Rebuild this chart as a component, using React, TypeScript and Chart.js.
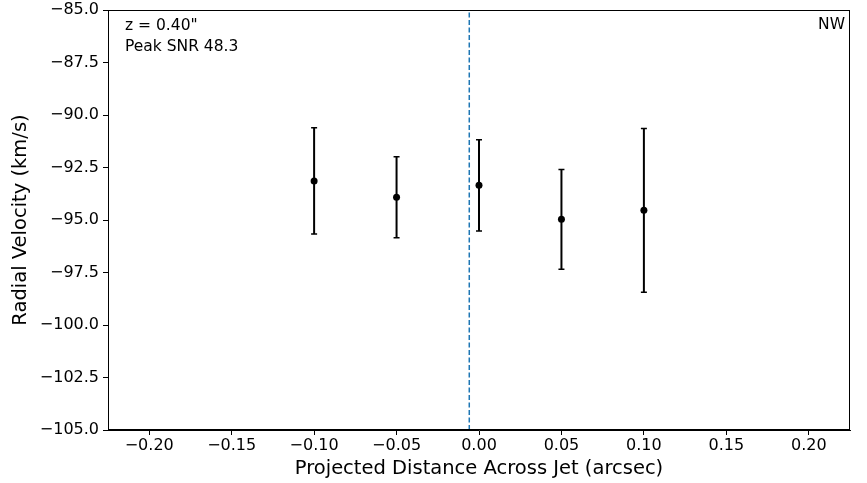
import React, { useEffect, useRef } from "react";
import { Chart, registerables } from "chart.js";

Chart.register(...registerables);

const xValues = [-0.1, -0.05, 0.0, 0.05, 0.1];
const yValues = [-93.14, -93.92, -93.35, -94.97, -94.54];
const yErrors = [2.53, 1.93, 2.17, 2.37, 3.9];
const centerLineX = -0.0059;
const xTicks = [-0.2, -0.15, -0.1, -0.05, 0.0, 0.05, 0.1, 0.15, 0.2];
const yTicks = [-105, -102.5, -100, -97.5, -95, -92.5, -90, -87.5, -85];
const xRange = [-0.225, 0.225];
const yRange = [-105, -85];
const annotationLeft = ['z = 0.40"', "Peak SNR 48.3"];
const annotationRight = "NW";

const FONT = "'DejaVu Sans', sans-serif";
const minus = (s: string) => s.replace("-", "\u2212");

const errorBarPlugin = {
  id: "errorBars",
  afterDatasetsDraw(chart: any) {
    const ctx = chart.ctx;
    const xs = chart.scales.x;
    const ys = chart.scales.y;
    ctx.save();
    ctx.strokeStyle = "#000";
    xValues.forEach((xv, i) => {
      const px = xs.getPixelForValue(xv);
      const top = ys.getPixelForValue(yValues[i] + yErrors[i]);
      const bot = ys.getPixelForValue(yValues[i] - yErrors[i]);
      ctx.lineWidth = 2;
      ctx.beginPath();
      ctx.moveTo(px, top);
      ctx.lineTo(px, bot);
      ctx.stroke();
      ctx.lineWidth = 1.5;
      ctx.beginPath();
      ctx.moveTo(px - 3, top);
      ctx.lineTo(px + 3, top);
      ctx.moveTo(px - 3, bot);
      ctx.lineTo(px + 3, bot);
      ctx.stroke();
    });
    ctx.restore();
  },
};

const framePlugin = {
  id: "frameAndText",
  afterDraw(chart: any) {
    const { ctx, chartArea } = chart;
    const { left, right, top, bottom } = chartArea;
    ctx.save();
    ctx.strokeStyle = "#000";
    ctx.lineWidth = 1;
    ctx.strokeRect(left + 0.5, top + 0.5, right - left - 1, bottom - top - 1);
    ctx.fillStyle = "#000";
    ctx.font = `15.5px ${FONT}`;
    ctx.textBaseline = "middle";
    ctx.textAlign = "left";
    annotationLeft.forEach((t, i) => {
      ctx.fillText(t, left + 17, top + 16 + i * 20.5);
    });
    ctx.textAlign = "right";
    ctx.fillText(annotationRight, right - 5, top + 15);
    ctx.restore();
  },
};

export default function App() {
  const canvasRef = useRef<HTMLCanvasElement | null>(null);

  useEffect(() => {
    if (!canvasRef.current) return;
    const chart = new Chart(canvasRef.current, {
      type: "scatter",
      data: {
        datasets: [
          {
            type: "line",
            data: [
              { x: centerLineX, y: yRange[0] },
              { x: centerLineX, y: yRange[1] },
            ],
            borderColor: "#1f77b4",
            borderWidth: 1.5,
            borderDash: [5, 2.5],
            pointRadius: 0,
            fill: false,
          } as any,
          {
            data: xValues.map((x, i) => ({ x, y: yValues[i] })),
            backgroundColor: "#000",
            borderColor: "#000",
            pointRadius: 3.5,
            pointBorderWidth: 0,
          },
        ],
      },
      options: {
        responsive: false,
        animation: false,
        devicePixelRatio: 1,
        layout: { padding: { left: 0, top: 10, right: 17, bottom: 0 } },
        plugins: {
          legend: { display: false },
          tooltip: { enabled: false },
        },
        scales: {
          x: {
            type: "linear",
            min: xRange[0],
            max: xRange[1],
            afterBuildTicks: (s: any) => {
              s.ticks = xTicks.map((v) => ({ value: v }));
            },
            afterFit: (s: any) => {
              s.height = 53;
              s.paddingLeft = 0;
              s.paddingRight = 0;
            },
            grid: {
              drawOnChartArea: false,
              drawTicks: true,
              tickLength: 5,
              tickWidth: 1,
              tickColor: "#000",
            },
            border: { display: true, color: "#000", width: 1 },
            ticks: {
              color: "#000",
              padding: 3,
              maxRotation: 0,
              autoSkip: false,
              font: { family: FONT, size: 16, lineHeight: 1 },
              callback: (v: any) => minus(Number(v).toFixed(2)),
            },
            title: {
              display: true,
              text: "Projected Distance Across Jet (arcsec)",
              color: "#000",
              font: { family: FONT, size: 19.5 },
              padding: { top: 0, bottom: 2 },
            },
          },
          y: {
            type: "linear",
            min: yRange[0],
            max: yRange[1],
            afterBuildTicks: (s: any) => {
              s.ticks = yTicks.map((v) => ({ value: v }));
            },
            afterFit: (s: any) => {
              s.width = 108;
              s.paddingTop = 0;
              s.paddingBottom = 0;
            },
            grid: {
              drawOnChartArea: false,
              drawTicks: true,
              tickLength: 5,
              tickWidth: 1,
              tickColor: "#000",
            },
            border: { display: true, color: "#000", width: 1 },
            ticks: {
              color: "#000",
              padding: 4,
              autoSkip: false,
              font: { family: FONT, size: 16, lineHeight: 1 },
              callback: (v: any) => minus(Number(v).toFixed(1)),
            },
            title: {
              display: true,
              text: "Radial Velocity (km/s)",
              color: "#000",
              font: { family: FONT, size: 19.5 },
              padding: { top: 9, bottom: 0 },
            },
          },
        },
      },
      plugins: [errorBarPlugin, framePlugin],
    });
    return () => chart.destroy();
  }, []);

  return (
    <div style={{ position: "absolute", left: 0, top: 0, width: 867, height: 483, background: "#fff" }}>
      <canvas ref={canvasRef} width={867} height={483} />
    </div>
  );
}
